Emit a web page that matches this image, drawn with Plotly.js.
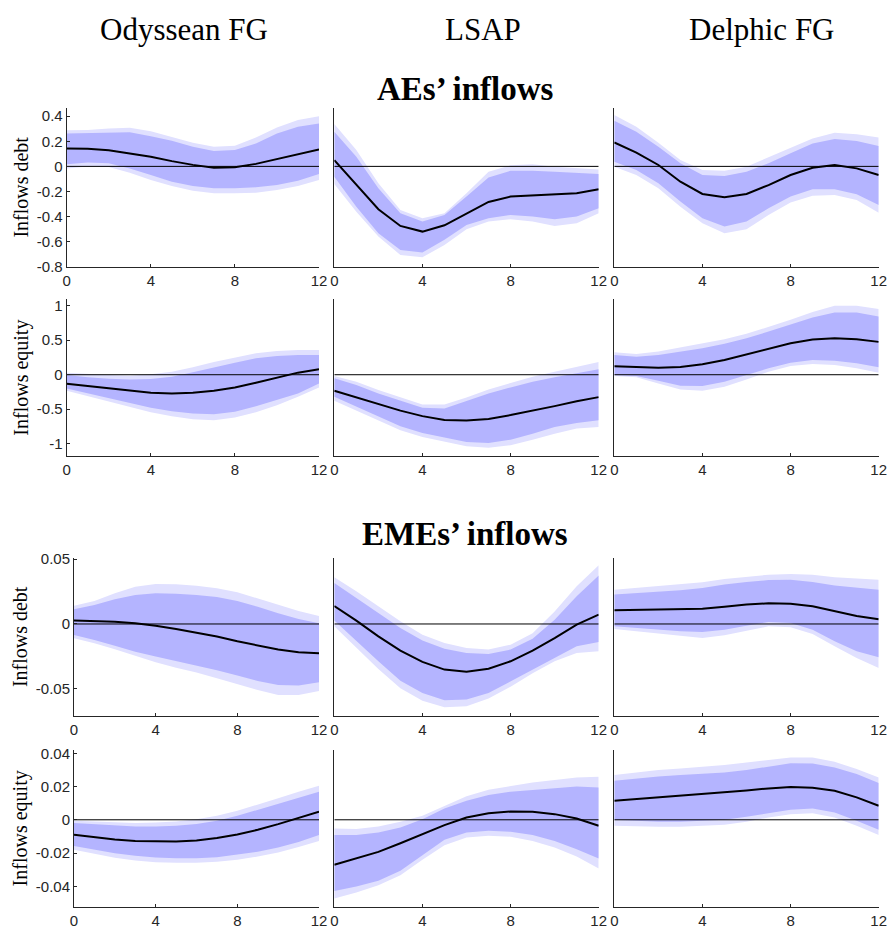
<!DOCTYPE html>
<html>
<head>
<meta charset="utf-8">
<script src="https://cdn.plot.ly/plotly-3.0.1.min.js"></script>
<style>html,body{margin:0;padding:0;background:#fff;}#chart{width:889px;height:929px;}</style>
</head>
<body>
<div id="chart"></div>
<script>
// ---------------- DATA ----------------
const horizons = [0,1,2,3,4,5,6,7,8,9,10,11,12];
const shockNames = ["Odyssean FG", "LSAP", "Delphic FG"];
const sectionNames = ["AEs’ inflows", "EMEs’ inflows"];
const variableNames = ["Inflows debt", "Inflows equity", "Inflows debt", "Inflows equity"];

const xTicks = [0, 4, 8, 12];
const xTickLabels = ["0", "4", "8", "12"];
const yTicksAEDebt = [-0.8, -0.6, -0.4, -0.2, 0, 0.2, 0.4];
const yTickLabelsAEDebt = ["-0.8", "-0.6", "-0.4", "-0.2", "0", "0.2", "0.4"];
const yTicksAEEquity = [-1, -0.5, 0, 0.5, 1];
const yTickLabelsAEEquity = ["-1", "-0.5", "0", "0.5", "1"];
const yTicksEMEDebt = [-0.05, 0, 0.05];
const yTickLabelsEMEDebt = ["-0.05", "0", "0.05"];
const yTicksEMEEquity = [-0.04, -0.02, 0, 0.02, 0.04];
const yTickLabelsEMEEquity = ["-0.04", "-0.02", "0", "0.02", "0.04"];

// AEs' inflows debt
const aeDebtOdyMed   = [0.143, 0.14, 0.128, 0.105, 0.076, 0.042, 0.012, -0.01, -0.006, 0.02, 0.058, 0.098, 0.135];
const aeDebtOdyInHi  = [0.263, 0.268, 0.27, 0.272, 0.241, 0.204, 0.156, 0.122, 0.13, 0.183, 0.263, 0.315, 0.342];
const aeDebtOdyOutHi = [0.289, 0.29, 0.303, 0.308, 0.28, 0.236, 0.188, 0.156, 0.164, 0.23, 0.31, 0.369, 0.4];
const aeDebtOdyInLo  = [0.016, 0.03, 0.025, -0.016, -0.069, -0.122, -0.157, -0.175, -0.175, -0.167, -0.149, -0.115, -0.061];
const aeDebtOdyOutLo = [-0.016, 0.0, -0.005, -0.051, -0.109, -0.157, -0.194, -0.215, -0.215, -0.21, -0.189, -0.157, -0.109];

const aeDebtLsapMed   = [0.05, -0.149, -0.342, -0.475, -0.52, -0.47, -0.374, -0.284, -0.241, -0.234, -0.228, -0.215, -0.183];
const aeDebtLsapInHi  = [0.276, 0.077, -0.175, -0.374, -0.44, -0.387, -0.241, -0.088, -0.035, -0.035, -0.042, -0.05, -0.061];
const aeDebtLsapOutHi = [0.337, 0.13, -0.135, -0.348, -0.414, -0.374, -0.215, -0.042, 0.008, 0.016, -0.003, -0.016, -0.024];
const aeDebtLsapInLo  = [-0.082, -0.321, -0.533, -0.666, -0.687, -0.586, -0.467, -0.414, -0.387, -0.4, -0.422, -0.4, -0.334];
const aeDebtLsapOutLo = [-0.141, -0.361, -0.56, -0.706, -0.725, -0.626, -0.502, -0.44, -0.422, -0.44, -0.475, -0.454, -0.374];

const aeDebtDelMed   = [0.191, 0.109, 0.011, -0.122, -0.22, -0.247, -0.22, -0.149, -0.069, -0.011, 0.011, -0.016, -0.069];
const aeDebtDelInHi  = [0.364, 0.276, 0.157, 0.024, -0.069, -0.077, -0.042, 0.024, 0.104, 0.183, 0.218, 0.202, 0.162];
const aeDebtDelOutHi = [0.409, 0.316, 0.188, 0.05, -0.029, -0.035, -0.003, 0.072, 0.149, 0.223, 0.268, 0.257, 0.231];
const aeDebtDelInLo  = [0.037, -0.029, -0.135, -0.281, -0.414, -0.48, -0.44, -0.334, -0.241, -0.183, -0.183, -0.223, -0.308];
const aeDebtDelOutLo = [-0.003, -0.069, -0.175, -0.321, -0.454, -0.533, -0.502, -0.387, -0.289, -0.234, -0.228, -0.268, -0.369];

// AEs' inflows equity
const aeEqOdyMed   = [-0.131, -0.165, -0.204, -0.237, -0.262, -0.271, -0.262, -0.233, -0.184, -0.116, -0.038, 0.03, 0.078];
const aeEqOdyInHi  = [-0.004, -0.038, -0.058, -0.068, -0.063, -0.029, 0.034, 0.107, 0.175, 0.238, 0.272, 0.286, 0.286];
const aeEqOdyOutHi = [0.03, 0.01, -0.004, -0.014, 0.005, 0.044, 0.107, 0.185, 0.253, 0.311, 0.345, 0.36, 0.36];
const aeEqOdyInLo  = [-0.198, -0.271, -0.344, -0.417, -0.48, -0.529, -0.562, -0.572, -0.538, -0.456, -0.369, -0.271, -0.126];
const aeEqOdyOutLo = [-0.232, -0.31, -0.392, -0.475, -0.543, -0.601, -0.645, -0.66, -0.621, -0.543, -0.441, -0.32, -0.184];

const aeEqLsapMed   = [-0.232, -0.33, -0.427, -0.52, -0.6, -0.655, -0.665, -0.641, -0.585, -0.522, -0.455, -0.385, -0.325];
const aeEqLsapInHi  = [-0.053, -0.15, -0.272, -0.378, -0.48, -0.49, -0.378, -0.272, -0.184, -0.102, -0.038, 0.02, 0.078];
const aeEqLsapOutHi = [-0.019, -0.102, -0.223, -0.33, -0.432, -0.432, -0.33, -0.213, -0.116, -0.029, 0.044, 0.117, 0.185];
const aeEqLsapInLo  = [-0.32, -0.466, -0.611, -0.747, -0.844, -0.912, -0.975, -0.99, -0.941, -0.854, -0.757, -0.699, -0.66];
const aeEqLsapOutLo = [-0.378, -0.524, -0.67, -0.805, -0.902, -0.975, -1.038, -1.057, -1.023, -0.941, -0.854, -0.781, -0.757];

const aeEqDelMed   = [0.122, 0.107, 0.102, 0.112, 0.151, 0.214, 0.291, 0.374, 0.456, 0.509, 0.529, 0.514, 0.476];
const aeEqDelInHi  = [0.286, 0.262, 0.286, 0.335, 0.384, 0.447, 0.529, 0.626, 0.723, 0.83, 0.903, 0.903, 0.845];
const aeEqDelOutHi = [0.325, 0.301, 0.335, 0.393, 0.447, 0.514, 0.592, 0.689, 0.796, 0.908, 1.0, 1.0, 0.952];
const aeEqDelInLo  = [-0.004, -0.019, -0.087, -0.16, -0.165, -0.102, -0.004, 0.093, 0.175, 0.214, 0.204, 0.165, 0.107];
const aeEqDelOutLo = [-0.019, -0.038, -0.126, -0.213, -0.232, -0.174, -0.068, 0.044, 0.126, 0.156, 0.141, 0.093, 0.03];

// EMEs' inflows debt
const emeDebtOdyMed   = [0.0026, 0.0023, 0.0018, 0.0005, -0.0013, -0.0038, -0.0067, -0.0097, -0.0133, -0.0167, -0.0197, -0.0218, -0.0226];
const emeDebtOdyInHi  = [0.0113, 0.0146, 0.019, 0.0223, 0.0236, 0.0233, 0.0223, 0.0208, 0.0177, 0.0133, 0.0082, 0.0038, 0.0005];
const emeDebtOdyOutHi = [0.0141, 0.0177, 0.0236, 0.0287, 0.0308, 0.0305, 0.0295, 0.0274, 0.0244, 0.0197, 0.0146, 0.01, 0.0062];
const emeDebtOdyInLo  = [-0.0085, -0.0123, -0.0167, -0.0213, -0.0251, -0.0285, -0.0321, -0.0356, -0.0397, -0.0438, -0.0469, -0.0474, -0.0449];
const emeDebtOdyOutLo = [-0.011, -0.0149, -0.0195, -0.0246, -0.0295, -0.0336, -0.0374, -0.0418, -0.0464, -0.0508, -0.0546, -0.0546, -0.0515];

const emeDebtLsapMed   = [0.0138, 0.0026, -0.0095, -0.0205, -0.0292, -0.0351, -0.0367, -0.0344, -0.0287, -0.0205, -0.0108, -0.0005, 0.0072];
const emeDebtLsapInHi  = [0.0315, 0.02, 0.0085, -0.0031, -0.0128, -0.019, -0.0223, -0.0231, -0.0197, -0.0113, 0.0033, 0.0213, 0.0374];
const emeDebtLsapOutHi = [0.0359, 0.0251, 0.0136, 0.0021, -0.0082, -0.0146, -0.0185, -0.0197, -0.0159, -0.0072, 0.0097, 0.029, 0.0451];
const emeDebtLsapInLo  = [0.0026, -0.0133, -0.0287, -0.0436, -0.0531, -0.0587, -0.0582, -0.0531, -0.0441, -0.0351, -0.0264, -0.0172, -0.0138];
const emeDebtLsapOutLo = [-0.0018, -0.0185, -0.0346, -0.0495, -0.059, -0.0641, -0.0633, -0.0574, -0.0482, -0.0379, -0.0287, -0.0223, -0.021];

const emeDebtDelMed   = [0.0105, 0.0108, 0.0108, 0.011, 0.0118, 0.0133, 0.0149, 0.0159, 0.0156, 0.0136, 0.0097, 0.0062, 0.0036];
const emeDebtDelInHi  = [0.0226, 0.0236, 0.0246, 0.0259, 0.0277, 0.0303, 0.0323, 0.0338, 0.0341, 0.0323, 0.0297, 0.0282, 0.0264];
const emeDebtDelOutHi = [0.0264, 0.0277, 0.029, 0.0303, 0.0321, 0.0346, 0.0364, 0.0379, 0.0385, 0.0379, 0.0359, 0.0349, 0.0341];
const emeDebtDelInLo  = [-0.0018, -0.0031, -0.0044, -0.0056, -0.0062, -0.0044, -0.0013, 0.0015, 0.0008, -0.0044, -0.0133, -0.021, -0.0256];
const emeDebtDelOutLo = [-0.0038, -0.0056, -0.0074, -0.0092, -0.0108, -0.0087, -0.0051, -0.0018, -0.0026, -0.0077, -0.0172, -0.0262, -0.0338];

// EMEs' inflows equity
const emeEqOdyMed   = [-0.009, -0.0106, -0.0118, -0.0127, -0.0131, -0.0131, -0.0124, -0.011, -0.0088, -0.006, -0.0026, 0.0012, 0.0048];
const emeEqOdyInHi  = [-0.002, -0.0028, -0.0036, -0.004, -0.004, -0.0036, -0.0026, -0.0006, 0.0024, 0.006, 0.0098, 0.0135, 0.0169];
const emeEqOdyOutHi = [-0.0006, -0.0012, -0.0018, -0.002, -0.0016, -0.001, 0.0004, 0.0024, 0.0054, 0.009, 0.0129, 0.0169, 0.0205];
const emeEqOdyInLo  = [-0.0157, -0.0181, -0.0201, -0.0217, -0.0227, -0.0231, -0.0231, -0.0225, -0.0211, -0.0193, -0.0167, -0.0133, -0.0092];
const emeEqOdyOutLo = [-0.0181, -0.0207, -0.0229, -0.0245, -0.0255, -0.0259, -0.0259, -0.0253, -0.0241, -0.0221, -0.0197, -0.0163, -0.0127];

const emeEqLsapMed   = [-0.0271, -0.0233, -0.0193, -0.0141, -0.0086, -0.0032, 0.0014, 0.004, 0.005, 0.0048, 0.0034, 0.0008, -0.0036];
const emeEqLsapInHi  = [-0.0092, -0.0092, -0.0076, -0.0046, 0.0004, 0.0068, 0.0114, 0.0149, 0.0169, 0.0179, 0.0189, 0.0201, 0.0195];
const emeEqLsapOutHi = [-0.0052, -0.0056, -0.004, -0.0012, 0.0024, 0.0084, 0.0141, 0.0181, 0.0205, 0.0225, 0.0239, 0.0255, 0.0259];
const emeEqLsapInLo  = [-0.0428, -0.0402, -0.0367, -0.0307, -0.0213, -0.012, -0.0076, -0.0066, -0.0072, -0.0092, -0.0127, -0.0177, -0.0233];
const emeEqLsapOutLo = [-0.0474, -0.0438, -0.0394, -0.0333, -0.0241, -0.0153, -0.0106, -0.0096, -0.0102, -0.0127, -0.0167, -0.0221, -0.0293];

const emeEqDelMed   = [0.0114, 0.0124, 0.0135, 0.0145, 0.0155, 0.0165, 0.0177, 0.0189, 0.0197, 0.0193, 0.0175, 0.0135, 0.0084];
const emeEqDelInHi  = [0.0235, 0.0249, 0.0261, 0.0269, 0.0277, 0.0285, 0.0299, 0.0321, 0.0341, 0.0339, 0.0315, 0.0275, 0.0221];
const emeEqDelOutHi = [0.0269, 0.0285, 0.0299, 0.0309, 0.0319, 0.0329, 0.0345, 0.0361, 0.0375, 0.0375, 0.0349, 0.0305, 0.0255];
const emeEqDelInLo  = [0.0, -0.0006, -0.0012, -0.0012, -0.0008, 0.0, 0.0018, 0.004, 0.006, 0.0068, 0.0044, -0.0006, -0.006];
const emeEqDelOutLo = [-0.0036, -0.004, -0.0042, -0.0042, -0.0038, -0.003, -0.0012, 0.0014, 0.0034, 0.004, 0.0014, -0.0036, -0.0092];

const zeroLine = [0, 0];
const zeroLineX = [0, 12];

// ---------------- PANELS ----------------
const panels = [
  [aeDebtOdyMed, aeDebtOdyInLo, aeDebtOdyInHi, aeDebtOdyOutLo, aeDebtOdyOutHi],
  [aeDebtLsapMed, aeDebtLsapInLo, aeDebtLsapInHi, aeDebtLsapOutLo, aeDebtLsapOutHi],
  [aeDebtDelMed, aeDebtDelInLo, aeDebtDelInHi, aeDebtDelOutLo, aeDebtDelOutHi],
  [aeEqOdyMed, aeEqOdyInLo, aeEqOdyInHi, aeEqOdyOutLo, aeEqOdyOutHi],
  [aeEqLsapMed, aeEqLsapInLo, aeEqLsapInHi, aeEqLsapOutLo, aeEqLsapOutHi],
  [aeEqDelMed, aeEqDelInLo, aeEqDelInHi, aeEqDelOutLo, aeEqDelOutHi],
  [emeDebtOdyMed, emeDebtOdyInLo, emeDebtOdyInHi, emeDebtOdyOutLo, emeDebtOdyOutHi],
  [emeDebtLsapMed, emeDebtLsapInLo, emeDebtLsapInHi, emeDebtLsapOutLo, emeDebtLsapOutHi],
  [emeDebtDelMed, emeDebtDelInLo, emeDebtDelInHi, emeDebtDelOutLo, emeDebtDelOutHi],
  [emeEqOdyMed, emeEqOdyInLo, emeEqOdyInHi, emeEqOdyOutLo, emeEqOdyOutHi],
  [emeEqLsapMed, emeEqLsapInLo, emeEqLsapInHi, emeEqLsapOutLo, emeEqLsapOutHi],
  [emeEqDelMed, emeEqDelInLo, emeEqDelInHi, emeEqDelOutLo, emeEqDelOutHi]
];
const rowTicks = [
  [yTicksAEDebt, yTickLabelsAEDebt],
  [yTicksAEEquity, yTickLabelsAEEquity],
  [yTicksEMEDebt, yTickLabelsEMEDebt],
  [yTicksEMEEquity, yTickLabelsEMEEquity]
];

// ---------------- LAYOUT GEOMETRY ----------------
const W = 889, H = 929;
const colPxTop = [[66.7, 319], [334.3, 598.7], [614.3, 878.7]];
const colPxBottom = [[74, 319], [334.3, 598.7], [614.3, 878.7]];
const rowPx = [[108, 266.7], [299.3, 456], [557.7, 716], [750, 906.7]];
const yRanges = [[-0.8, 0.4655], [-1.178, 1.093], [-0.0708, 0.051], [-0.0523, 0.042]];

const outerColor = 'rgb(224,224,255)';
const innerColor = 'rgb(180,180,255)';
const axisColor = '#262626';
const tickFont = {family: 'Liberation Sans, Arial, sans-serif', size: 15, color: axisColor};
const serif = 'Liberation Serif, Times New Roman, serif';

const traces = [];
const layout = {
  width: W, height: H,
  margin: {l: 0, r: 0, t: 0, b: 0},
  paper_bgcolor: '#fff', plot_bgcolor: 'rgba(0,0,0,0)',
  showlegend: false,
  annotations: [],
  font: {family: tickFont.family}
};

panels.forEach((p, i) => {
  const row = Math.floor(i / 3), col = i % 3;
  const n = i + 1;
  const xa = 'x' + (n === 1 ? '' : n), ya = 'y' + (n === 1 ? '' : n);
  const [med, inLo, inHi, outLo, outHi] = p;
  const base = {x: horizons, xaxis: xa, yaxis: ya, mode: 'lines', hoverinfo: 'skip', showlegend: false};
  traces.push(Object.assign({}, base, {y: outHi, line: {width: 0, color: outerColor}, fill: 'none'}));
  traces.push(Object.assign({}, base, {y: outLo, line: {width: 0, color: outerColor}, fill: 'tonexty', fillcolor: outerColor}));
  traces.push(Object.assign({}, base, {y: inHi, line: {width: 0, color: innerColor}, fill: 'none'}));
  traces.push(Object.assign({}, base, {y: inLo, line: {width: 0, color: innerColor}, fill: 'tonexty', fillcolor: innerColor}));
  traces.push(Object.assign({}, base, {x: zeroLineX, y: zeroLine, line: {width: 1, color: '#000'}}));
  traces.push(Object.assign({}, base, {y: med, line: {width: 2, color: '#000'}}));

  const cpx = (row < 2 ? colPxTop : colPxBottom)[col];
  const rpx = rowPx[row];
  layout['xaxis' + (n === 1 ? '' : n)] = {
    domain: [cpx[0] / W, cpx[1] / W], anchor: ya, range: [0, 12],
    showline: true, linecolor: axisColor, linewidth: 1, mirror: false,
    ticks: 'inside', ticklen: 3, tickcolor: axisColor, tickwidth: 1,
    tickvals: xTicks, ticktext: xTickLabels, tickfont: tickFont,
    showgrid: false, zeroline: false, fixedrange: true
  };
  const yax = {
    domain: [1 - rpx[1] / H, 1 - rpx[0] / H], anchor: xa, range: yRanges[row],
    showline: true, linecolor: axisColor, linewidth: 1,
    showgrid: false, zeroline: false, fixedrange: true,
    tickvals: rowTicks[row][0], ticktext: rowTicks[row][1], tickfont: tickFont
  };
  if (col === 0) {
    yax.ticks = 'inside'; yax.ticklen = 3; yax.tickcolor = axisColor;
    yax.showticklabels = true;
    yax.title = {text: variableNames[row], font: {family: serif, size: 20, color: '#000'}, standoff: 2};
  } else {
    yax.ticks = ''; yax.showticklabels = false;
  }
  layout['yaxis' + (n === 1 ? '' : n)] = yax;
});

const headerX = [184, 483, 762];
shockNames.forEach((s, j) => {
  layout.annotations.push({text: s, xref: 'paper', yref: 'paper', x: headerX[j] / W, y: 1 - 30 / H,
    xanchor: 'center', yanchor: 'middle', showarrow: false, font: {family: serif, size: 31, color: '#000'}});
});
const sectionY = [89, 534];
sectionNames.forEach((s, j) => {
  layout.annotations.push({text: '<b>' + s + '</b>', xref: 'paper', yref: 'paper', x: 465 / W, y: 1 - sectionY[j] / H,
    xanchor: 'center', yanchor: 'middle', showarrow: false, font: {family: serif, size: 33, color: '#000'}});
});

Plotly.newPlot('chart', traces, layout, {staticPlot: true, displayModeBar: false});
</script>
</body>
</html>
